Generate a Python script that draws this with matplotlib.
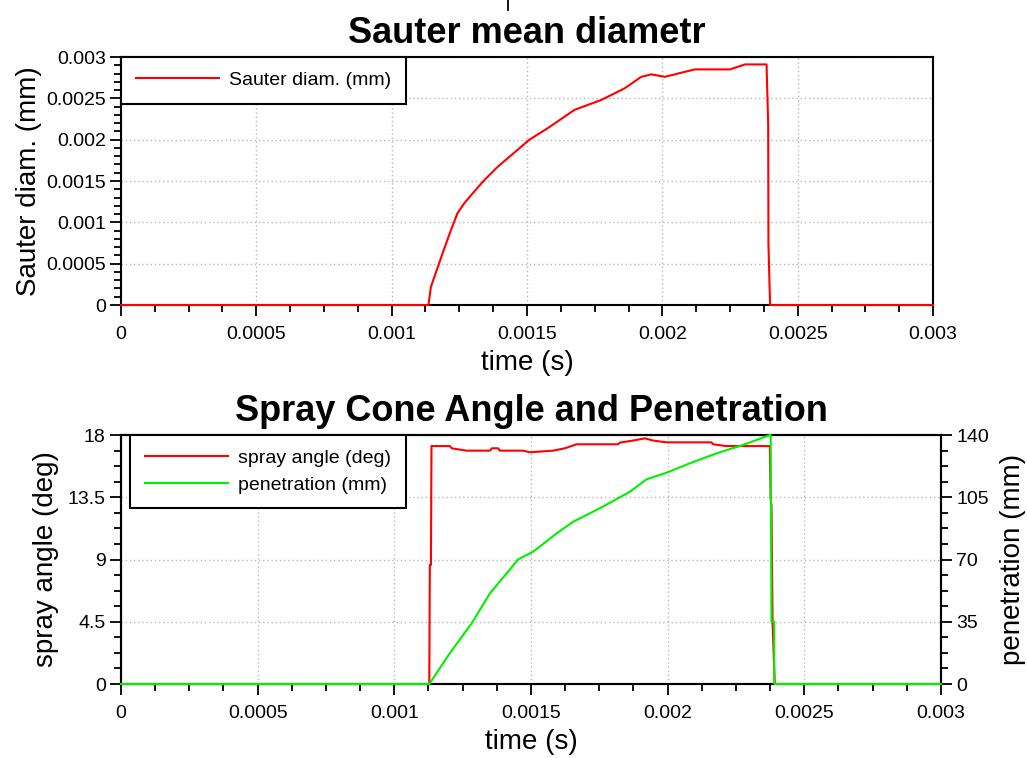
import matplotlib
matplotlib.use("Agg")
import matplotlib.pyplot as plt
from matplotlib.ticker import MultipleLocator, AutoMinorLocator, FuncFormatter
from matplotlib.lines import Line2D

plt.rcParams['font.family'] = ['Liberation Sans', 'DejaVu Sans']

# Sauter mean diameter (mm) vs time (s)
t_sauter = [0, 0.001136, 0.001145, 0.001188, 0.001219, 0.001243, 0.001268, 0.001299,
            0.001342, 0.001391, 0.001441, 0.001509, 0.001577, 0.001675, 0.001774,
            0.00186, 0.001922, 0.001959, 0.002009, 0.002058, 0.00212, 0.00225,
            0.002305, 0.002385, 0.002391, 0.002392, 0.002398, 0.003]
d_sauter = [0, 0, 0.00022, 0.000625, 0.000907, 0.00111, 0.00123, 0.00135,
            0.00151, 0.00167, 0.00181, 0.00200, 0.00214, 0.00236, 0.00248,
            0.00262, 0.00276, 0.00279, 0.00276, 0.00280, 0.00285, 0.00285,
            0.00291, 0.00291, 0.00218, 0.00073, 0, 0]

# spray cone angle (deg) vs time (s)
t_angle = [0, 0.001128, 0.00113, 0.001134, 0.001136, 0.001203, 0.00121, 0.001264,
           0.00135, 0.001357, 0.00138, 0.001386, 0.001471, 0.001496, 0.001581,
           0.001624, 0.001667, 0.001819, 0.001825, 0.001874, 0.001917, 0.001947,
           0.001996, 0.00216, 0.002167, 0.002215, 0.002374, 0.002377, 0.00238,
           0.002384, 0.002392, 0.003]
angle = [0, 0, 8.6, 8.6, 17.2, 17.2, 17.04, 16.87,
         16.87, 17.04, 17.04, 16.87, 16.87, 16.75, 16.87,
         17.04, 17.33, 17.33, 17.45, 17.6, 17.76, 17.6,
         17.47, 17.47, 17.33, 17.2, 17.2, 13.4, 12.9,
         4.4, 0, 0]

# spray penetration (mm) vs time (s)
t_pen = [0, 0.001128, 0.001203, 0.001283, 0.00135, 0.001411, 0.001453, 0.001508,
         0.001594, 0.001655, 0.001752, 0.001862, 0.001923, 0.001996, 0.002081,
         0.002179, 0.002276, 0.002374, 0.002377, 0.00238, 0.00239, 0.00239, 0.003]
pen = [0, 0, 17.3, 34.1, 51.0, 62.2, 70.1, 74.4,
       84.7, 91.3, 98.8, 108.1, 115.1, 118.8, 124.1,
       129.7, 134.4, 140, 140, 35, 35, 0, 0]

fmt_g = FuncFormatter(lambda v, p: "%g" % round(v, 6))
TICK_FS = 14
LABEL_FS = 20
TITLE_FS = 26
LEGEND_FS = 14


def style_axis(ax, minor_x=4, minor_y=5):
    ax.xaxis.set_minor_locator(AutoMinorLocator(minor_x))
    ax.yaxis.set_minor_locator(AutoMinorLocator(minor_y))
    ax.tick_params(which="major", direction="out", length=8, width=1.3,
                   labelsize=TICK_FS, top=False, right=False)
    ax.tick_params(which="minor", direction="out", length=5, width=1.3,
                   top=False, right=False)
    ax.tick_params(axis="x", which="major", pad=7)
    ax.tick_params(axis="y", which="major", pad=3)
    ax.grid(True, which="major", linestyle=(0, (1, 2)), color="#b8b8b8", linewidth=1)
    for s in ax.spines.values():
        s.set_linewidth(1.5)


def style_legend(leg):
    frame = leg.get_frame()
    frame.set_edgecolor("black")
    frame.set_linewidth(1.5)
    frame.set_alpha(1)


fig = plt.figure(figsize=(10.27, 7.58), dpi=100)

# ---- top: Sauter mean diameter ----
ax1 = fig.add_axes([0.1178, 0.5976, 0.7907, 0.3272])
line_s, = ax1.plot(t_sauter, d_sauter, color="#ff0000", lw=1.5,
                   label="Sauter diam. (mm)", clip_on=False, zorder=5)
ax1.set_xlim(0, 0.003)
ax1.set_ylim(0, 0.003)
ax1.xaxis.set_major_locator(MultipleLocator(0.0005))
ax1.yaxis.set_major_locator(MultipleLocator(0.0005))
ax1.xaxis.set_major_formatter(fmt_g)
ax1.yaxis.set_major_formatter(fmt_g)
style_axis(ax1, 4, 5)
ax1.set_xlabel("time (s)", fontsize=LABEL_FS, labelpad=5)
ax1.set_ylabel("Sauter diam. (mm)", fontsize=LABEL_FS, labelpad=3)
ax1.set_title("Sauter mean diametr", fontsize=TITLE_FS, fontweight="bold", pad=10)
leg1 = ax1.legend(loc="upper left", bbox_to_anchor=(0, 1), borderaxespad=0,
                  fontsize=LEGEND_FS, handlelength=4.3, handletextpad=0.5,
                  frameon=True, fancybox=False, borderpad=0.75)
style_legend(leg1)
leg1.set_zorder(10)

# ---- bottom: spray angle and penetration ----
ax2 = fig.add_axes([0.1178, 0.0976, 0.7984, 0.3285])
ax3 = ax2.twinx()
line_a, = ax2.plot(t_angle, angle, color="#ff0000", lw=1.5,
                   label="spray angle (deg)", clip_on=False, zorder=5)
line_p, = ax3.plot(t_pen, pen, color="#00f000", lw=1.5,
                   label="penetration (mm)", clip_on=False, zorder=5)
ax2.set_xlim(0, 0.003)
ax2.set_ylim(0, 18)
ax3.set_ylim(0, 140)
ax2.xaxis.set_major_locator(MultipleLocator(0.0005))
ax2.yaxis.set_major_locator(MultipleLocator(4.5))
ax3.yaxis.set_major_locator(MultipleLocator(35))
ax2.xaxis.set_major_formatter(fmt_g)
ax2.yaxis.set_major_formatter(fmt_g)
ax3.yaxis.set_major_formatter(fmt_g)
style_axis(ax2, 4, 4)
ax3.yaxis.set_minor_locator(AutoMinorLocator(4))
ax3.tick_params(which="major", direction="out", length=8, width=1.3,
                labelsize=TICK_FS, pad=3)
ax3.tick_params(which="minor", direction="out", length=5, width=1.3)
for s in ax3.spines.values():
    s.set_linewidth(1.5)
ax2.set_xlabel("time (s)", fontsize=LABEL_FS, labelpad=5)
ax2.set_ylabel("spray angle (deg)", fontsize=LABEL_FS, labelpad=6)
ax3.set_ylabel("penetration (mm)", fontsize=LABEL_FS, labelpad=8)
ax2.set_title("Spray Cone Angle and Penetration", fontsize=TITLE_FS,
              fontweight="bold", pad=10)
leg2 = ax3.legend(handles=[line_a, line_p], loc="upper left",
                  bbox_to_anchor=(0.011, 1), borderaxespad=0,
                  fontsize=LEGEND_FS, handlelength=4.3, handletextpad=0.5,
                  frameon=True, fancybox=False, borderpad=0.75, labelspacing=0.45)
style_legend(leg2)
leg2.set_zorder(10)

# small stray mark at the very top of the picture
fig.add_artist(Line2D([0.4946, 0.4946], [1.0, 0.987], color="black", lw=1.3))

fig.savefig("out.png", dpi=100)
